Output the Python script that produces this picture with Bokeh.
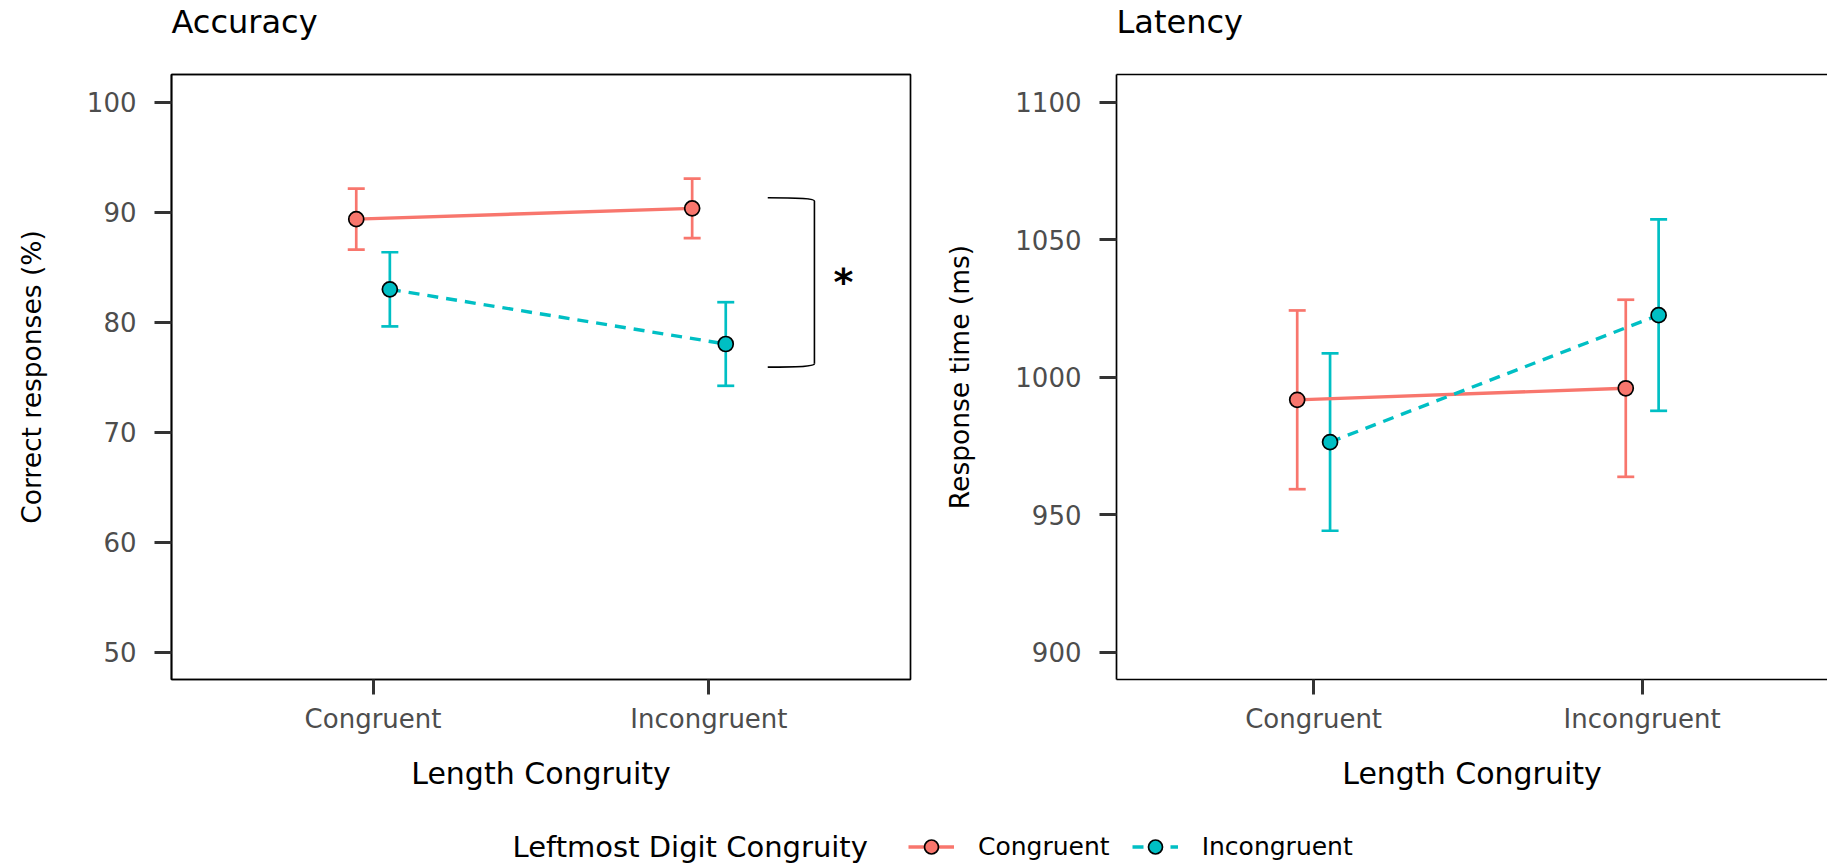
import numpy as np
from bokeh.plotting import figure
from bokeh.layouts import column, row
from bokeh.models import (ColumnDataSource, Range1d, FixedTicker, LinearAxis,
                          Whisker, TeeHead, Legend, LegendItem, Label)
from bokeh.core.properties import value
from bokeh.embed import file_html
from bokeh.resources import INLINE

# ---------------- data ----------------
length_levels = ["Congruent", "Incongruent"]          # x categories
digit_levels = ["Congruent", "Incongruent"]           # series (legend)

acc_congruent_mean = [89.35, 90.33]
acc_congruent_err = [2.77, 2.70]
acc_incongruent_mean = [82.97, 78.00]
acc_incongruent_err = [3.37, 3.80]

rt_congruent_mean = [991.7, 995.9]
rt_congruent_err = [32.5, 32.2]
rt_incongruent_mean = [976.35, 1022.5]
rt_incongruent_err = [32.25, 34.8]

acc_ticks = [50, 60, 70, 80, 90, 100]
rt_ticks = [900, 950, 1000, 1050, 1100]

panel_titles = ["Accuracy", "Latency"]

# significance bracket (accuracy panel)
bracket_y = [91.3, 75.9]
bracket_x = [2.175, 2.314]
star_x = 2.40
star_text = "*"

# ---------------- style ----------------
FONT = "DejaVu Sans"
RED = "#F8766D"
TEAL = "#00BFC4"
DODGE = 0.05
DASH = "11 8"
W = 1827
TITLE_H = 44
ROW_H = 749
LEG_H = 70


def series_source(means, errs, offset):
    pos = [i + 1 + offset for i in range(len(length_levels))]
    return ColumnDataSource(dict(
        xd=pos, mean=means,
        upper=[m + e for m, e in zip(means, errs)],
        lower=[m - e for m, e in zip(means, errs)],
    ))


def blank_strip(height):
    f = figure(width=W, height=height, x_range=Range1d(0, W), y_range=Range1d(0, height),
               output_backend="svg", toolbar_location=None, min_border=0,
               x_axis_type=None, y_axis_type=None)
    f.outline_line_color = None
    f.background_fill_color = "white"
    f.border_fill_color = "white"
    return f


def make_panel(ylabel, yticks, yrange, xend, series, width, min_left, min_right, outline):
    p = figure(width=width, height=ROW_H, x_range=Range1d(0.4, xend), y_range=Range1d(*yrange),
               output_backend="svg", toolbar_location=None,
               min_border_left=min_left, min_border_right=min_right,
               min_border_top=30, min_border_bottom=114)
    p.xgrid.visible = False
    p.ygrid.visible = False
    p.background_fill_color = "white"
    p.border_fill_color = "white"
    if outline:
        p.outline_line_color = "black"
        p.outline_line_width = 1.7
        p.outline_line_alpha = 1.0
    else:
        p.outline_line_color = None

    # x axis
    xa = p.xaxis[0]
    xa.ticker = FixedTicker(ticks=[1, 2])
    xa.major_label_overrides = {i + 1: lab for i, lab in enumerate(length_levels)}
    xa.axis_label = "Length Congruity"
    xa.major_tick_out = 15
    xa.major_label_standoff = 9
    xa.axis_label_standoff = 19

    # y axis
    ya = p.yaxis[0]
    ya.ticker = FixedTicker(ticks=yticks)
    ya.axis_label = ylabel
    ya.major_tick_out = 17
    ya.major_label_standoff = 18
    ya.axis_label_standoff = 37

    for ax in (xa, ya):
        ax.major_tick_in = 0
        ax.minor_tick_line_color = None
        ax.major_tick_line_color = "#333333"
        ax.major_tick_line_width = 3
        ax.axis_line_color = "black"
        ax.axis_line_width = 1.7
        ax.major_label_text_font = FONT
        ax.major_label_text_font_size = "26px"
        ax.major_label_text_color = "#4D4D4D"
        ax.axis_label_text_font = FONT
        ax.axis_label_text_font_style = "normal"
        ax.axis_label_text_color = "black"
    xa.axis_label_text_font_size = "30px"
    ya.axis_label_text_font_size = "26.5px"

    # top border line
    top = LinearAxis(ticker=FixedTicker(ticks=[]), axis_line_color="black", axis_line_width=1.7,
                     major_tick_line_color=None, minor_tick_line_color=None,
                     major_label_text_font_size="0px")
    p.add_layout(top, "above")

    for (means, errs, offset, color, dash) in series:
        src = series_source(means, errs, offset)
        wh = Whisker(source=src, base="xd", upper="upper", lower="lower",
                     line_color=color, line_width=2.7, level="underlay",
                     upper_head=TeeHead(size=17, line_color=color, line_width=2.7),
                     lower_head=TeeHead(size=17, line_color=color, line_width=2.7))
        p.add_layout(wh)
        p.line(x="xd", y="mean", source=src, line_color=color, line_width=3.4, line_dash=dash)
        p.scatter(x="xd", y="mean", source=src, size=15, fill_color=color,
                  line_color="black", line_width=1.7)
    return p


acc_series = [
    (acc_congruent_mean, acc_congruent_err, -DODGE, RED, "solid"),
    (acc_incongruent_mean, acc_incongruent_err, DODGE, TEAL, DASH),
]
rt_series = [
    (rt_congruent_mean, rt_congruent_err, -DODGE, RED, "solid"),
    (rt_incongruent_mean, rt_incongruent_err, DODGE, TEAL, DASH),
]

p1 = make_panel("Correct responses (%)", acc_ticks, (47.5, 102.5), 2.6,
                acc_series, width=930, min_left=171, min_right=20, outline=True)
p2 = make_panel("Response time (ms)", rt_ticks, (890, 1110), 2.564,
                rt_series, width=897, min_left=186, min_right=0, outline=False)

# significance bracket + star
top_y, bot_y = bracket_y
x0, x1 = bracket_x
curve = 0.3
p1.bezier(x0=[x0], y0=[top_y], x1=[x1], y1=[top_y - curve],
          cx0=[x0 + 0.7 * (x1 - x0)], cy0=[top_y], cx1=[x1], cy1=[top_y - 0.08],
          line_color="black", line_width=1.6)
p1.bezier(x0=[x0], y0=[bot_y], x1=[x1], y1=[bot_y + curve],
          cx0=[x0 + 0.7 * (x1 - x0)], cy0=[bot_y], cx1=[x1], cy1=[bot_y + 0.08],
          line_color="black", line_width=1.6)
p1.segment(x0=[x1], y0=[top_y - curve], x1=[x1], y1=[bot_y + curve],
           line_color="black", line_width=1.6)
p1.text(x=[star_x], y=[(top_y + bot_y) / 2], text=[star_text], text_font=value(FONT),
        text_font_size="38px", text_font_style="bold", text_align="center",
        text_baseline="middle", text_color="black")

# ---------------- title strip ----------------
tstrip = blank_strip(TITLE_H)
for tx, t in zip([171, 1116], panel_titles):
    tstrip.add_layout(Label(x=tx, y=22.5, text=t, text_font=FONT, text_font_size="32px",
                            text_baseline="middle", text_align="left",
                            text_color="black"))

# ---------------- legend strip ----------------
leg = blank_strip(LEG_H)
items = []
for lab, color, dash in zip(digit_levels, [RED, TEAL], ["solid", DASH]):
    dummy = ColumnDataSource(dict(x=np.array([np.nan]), y=np.array([np.nan])))
    rl = leg.line(x="x", y="y", source=dummy, line_color=color, line_width=3.4, line_dash=dash)
    rs = leg.scatter(x="x", y="y", source=dummy, size=15, fill_color=color,
                     line_color="black", line_width=1.7)
    items.append(LegendItem(label=lab, renderers=[rl, rs]))

legend = Legend(items=items, orientation="horizontal", location=(908, -0.5),
                glyph_width=46, glyph_height=35, label_height=35, label_standoff=24,
                spacing=22, padding=0, margin=0, border_line_color=None,
                background_fill_alpha=0, label_text_font=FONT,
                label_text_font_size="25px", label_text_color="black")
leg.add_layout(legend)
leg.add_layout(Label(x=512, y=17, text="Leftmost Digit Congruity", text_font=FONT,
                     text_font_size="29px", text_baseline="middle", text_align="left",
                     text_color="black"))

layout = column(tstrip, row(p1, p2), leg)
open("out.html", "w").write(file_html(layout, INLINE))
